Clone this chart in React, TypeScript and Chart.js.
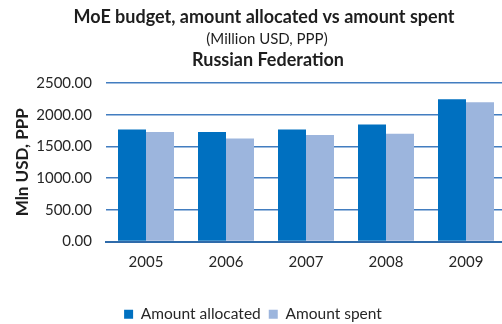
import React, { useEffect, useRef } from "react";
import { Chart, registerables } from "chart.js";

Chart.register(...registerables);

const years = ["2005", "2006", "2007", "2008", "2009"];
const allocated = [1767, 1726, 1767, 1847, 2245];
const spent = [1726, 1624, 1678, 1699, 2197];
const seriesNames = ["Amount allocated", "Amount spent"];
const titleText = "MoE budget, amount allocated vs amount spent";
const subtitleText = "(Million USD, PPP)";
const countryText = "Russian Federation";
const yAxisTitle = "Mln USD, PPP";

const FONT = "Lato, 'Liberation Sans', sans-serif";

const headerPlugin = {
  id: "header",
  afterDraw(chart: any) {
    const ctx = chart.ctx;
    ctx.save();
    ctx.fillStyle = "#1e1e1e";
    ctx.textAlign = "center";
    ctx.textBaseline = "alphabetic";
    ctx.font = `bold 18px ${FONT}`;
    ctx.fillText(titleText, 264, 23);
    ctx.font = `15px ${FONT}`;
    ctx.fillText(subtitleText, 267, 44);
    ctx.font = `bold 18px ${FONT}`;
    ctx.fillText(countryText, 268, 66);
    ctx.restore();
  },
};

export default function App() {
  const ref = useRef<HTMLCanvasElement | null>(null);
  useEffect(() => {
    document.body.style.margin = "0";
    const chart = new Chart(ref.current as HTMLCanvasElement, {
      type: "bar",
      data: {
        labels: years,
        datasets: [
          {
            label: seriesNames[0],
            data: allocated,
            backgroundColor: "#0070C0",
            categoryPercentage: 0.7,
            barPercentage: 1.0,
          },
          {
            label: seriesNames[1],
            data: spent,
            backgroundColor: "#9CB5DD",
            categoryPercentage: 0.7,
            barPercentage: 1.0,
          },
        ],
      },
      options: {
        animation: false,
        responsive: false,
        maintainAspectRatio: false,
        layout: { padding: { top: 83, left: 0, right: 0, bottom: 0 } },
        plugins: {
          title: { display: false },
          tooltip: { enabled: false },
          legend: {
            position: "bottom",
            labels: {
              boxWidth: 9,
              boxHeight: 9,
              padding: 8,
              color: "#262626",
              font: { family: FONT, size: 15.5 },
            },
          },
        },
        scales: {
          x: {
            grid: { display: false, drawTicks: false },
            border: { display: true, color: "#2F6BAA", width: 2 },
            ticks: { color: "#262626", font: { family: FONT, size: 15 }, padding: 12 },
            afterFit(scale: any) {
              scale.height = 57;
            },
          },
          y: {
            min: 0,
            max: 2500,
            grid: { color: "#427DC0", lineWidth: 1.6, drawTicks: false },
            border: { display: false },
            ticks: {
              stepSize: 500,
              color: "#262626",
              padding: 14,
              font: { family: FONT, size: 15 },
              callback: (v: any) => Number(v).toFixed(2),
            },
            title: {
              display: true,
              text: yAxisTitle,
              color: "#1e1e1e",
              font: { family: FONT, size: 17, weight: "bold" },
              padding: { top: 12, bottom: 0 },
            },
            afterFit(scale: any) {
              scale.width = 106;
            },
          },
        },
      },
      plugins: [headerPlugin],
    } as any);
    return () => chart.destroy();
  }, []);
  return (
    <div style={{ width: 502, height: 324, overflow: "hidden", position: "relative" }}>
      <canvas ref={ref} width={506} height={332} style={{ display: "block", width: 506, height: 332 }} />
    </div>
  );
}
